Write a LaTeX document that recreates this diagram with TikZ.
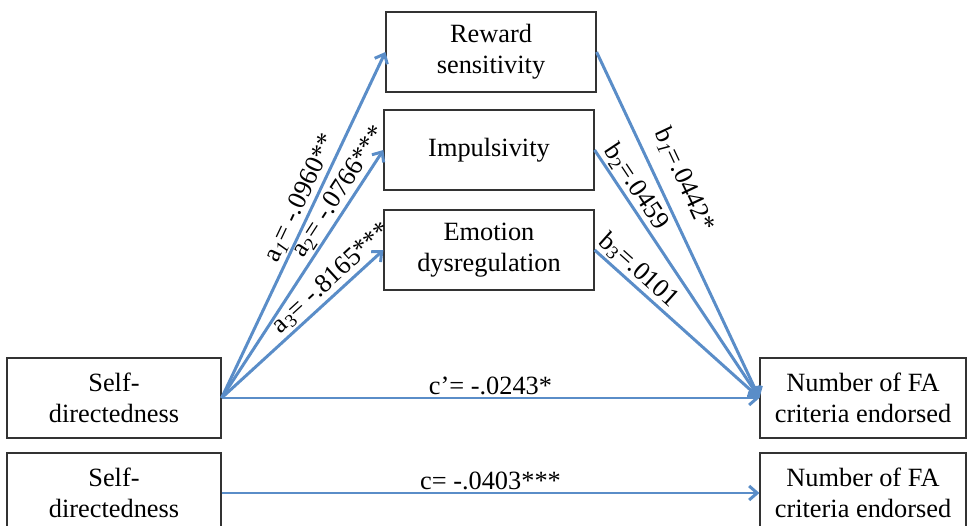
\documentclass[tikz,border=0pt]{standalone}
\usepackage{fontspec}
\setmainfont{Liberation Serif}
\usetikzlibrary{arrows.meta}
\definecolor{pathblue}{HTML}{5A8DC8}

\begin{document}
\begin{tikzpicture}[x=0.02cm,y=-0.02cm,
  box/.style={draw=black!80,line width=0.7pt,align=center,inner sep=0pt,
    minimum height=1.6cm,font=\fontsize{15}{17.6}\selectfont},
  link/.style={draw=pathblue,line width=1.7pt,
    -{Straight Barb[length=1.6mm,width=2.8mm]}},
  coef/.style={font=\fontsize{15}{17}\selectfont,sloped,above,inner sep=1pt}]
  \useasboundingbox (0,0) rectangle (968,526);
  % mediators
  \node[box,minimum width=4.2cm] (rew) at (491,52) {Reward\\sensitivity};
  \node[box,minimum width=4.2cm] (imp) at (489,150) {Impulsivity};
  \node[box,minimum width=4.2cm] (emo) at (489,250) {Emotion\\dysregulation};
  % mediated model
  \node[box,minimum width=4.28cm] (sd) at (114,398) {Self-\\directedness};
  \node[box,minimum width=4.12cm] (fa) at (863,398) {Number of FA\\criteria endorsed};
  % total effect
  \node[box,minimum width=4.28cm] (sd2) at (114,493) {Self-\\directedness};
  \node[box,minimum width=4.12cm] (fa2) at (863,493) {Number of FA\\criteria endorsed};

  \draw[link] (sd.east) -- node[coef,pos=0.56] {a\textsubscript{\itshape 1}= -.0960**} (rew.west);
  \draw[link] (sd.east) -- node[coef,pos=0.8] {a\textsubscript{2}= -.0766***} (imp.west);
  \draw[link] (sd.east) -- node[coef,pos=0.74] {a\textsubscript{3}= -.8165***} (emo.west);
  \draw[link] (rew.east) -- node[coef,pos=0.4,above=6pt] {b\textsubscript{\itshape 1}=.0442*} (fa.west);
  \draw[link] (imp.east) -- node[coef,pos=0.18] {b\textsubscript{2}=.0459} (fa.west);
  \draw[link] (emo.east) -- node[coef,pos=0.21] {b\textsubscript{3}=.0101} (fa.west);
  \draw[link] (sd.east) -- node[coef] {c’= -.0243*} (fa.west);
  \draw[link] (sd2.east) -- node[coef] {c= -.0403***} (fa2.west);
\end{tikzpicture}
\end{document}
